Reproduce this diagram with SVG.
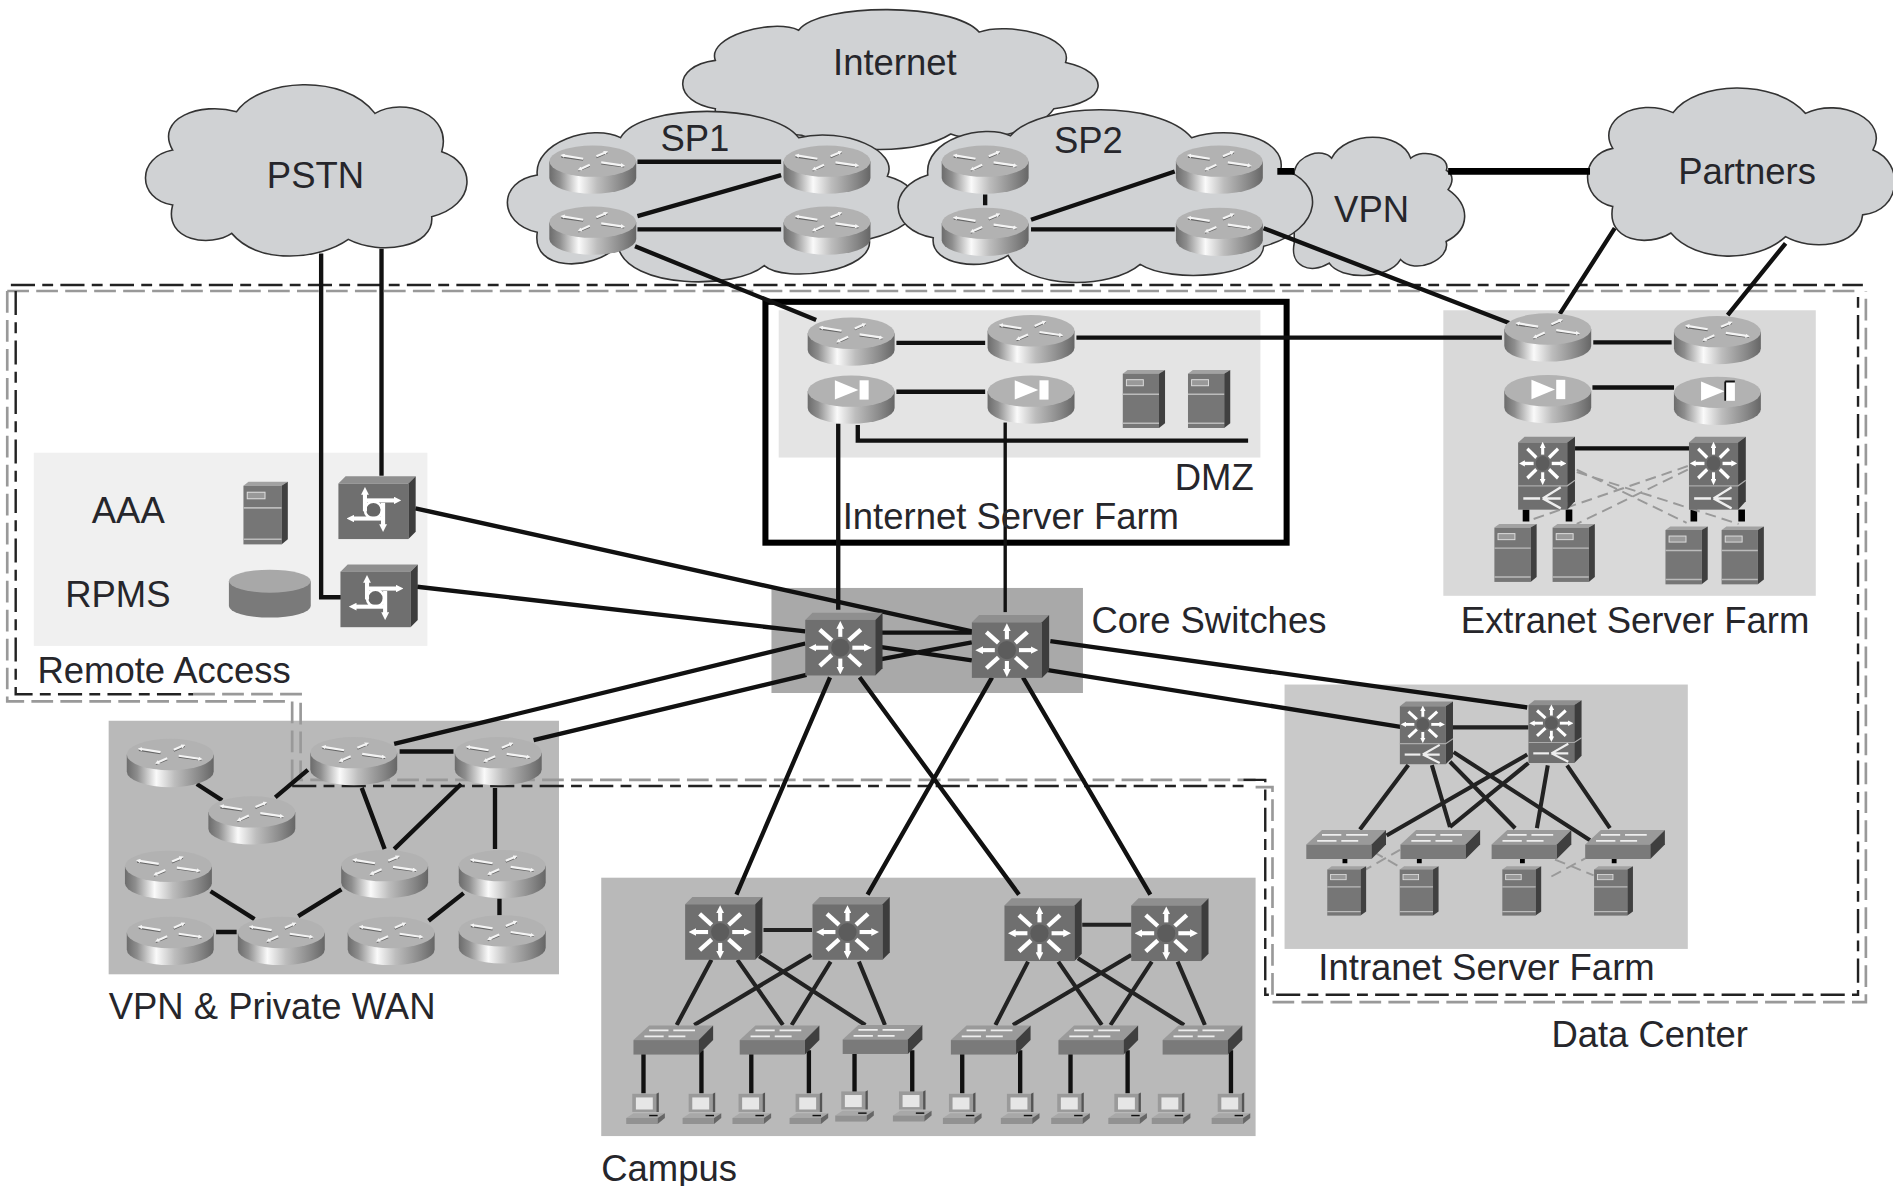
<svg xmlns="http://www.w3.org/2000/svg" width="1893" height="1186" viewBox="0 0 1893 1186">
<style>
text{font-family:"Liberation Sans",Arial,sans-serif;font-size:30.2px;fill:#26262b}
.cloud{fill:#d0d2d4;stroke:#333;stroke-width:1.3}
.l{stroke:#111;stroke-width:3.6;fill:none}
.lc{stroke:#222;stroke-width:3.4;fill:none}
.d{stroke:#000;stroke-width:5.5;fill:none}
.bk{stroke:#222;stroke-width:2;fill:none;stroke-dasharray:20 6 9 6}
.gr{stroke:#999;stroke-width:2.2;fill:none;stroke-dasharray:18 6}
.gd{stroke:#999;stroke-width:1.6;fill:none;stroke-dasharray:9 5}
.w{stroke:#f4f4f4;fill:none;stroke-width:1.8;marker-end:url(#ws)}
.sh{stroke:#666;fill:none;stroke-width:1.4}
.s{stroke:#fff;fill:none;stroke-width:3.4;marker-end:url(#wa)}
.b{stroke:#fff;fill:none;stroke-width:3.6}
</style>
<defs>
<marker id="wa" viewBox="0 0 10 10" refX="2" refY="5" markerWidth="1.9" markerHeight="1.9" orient="auto"><path d="M0,0L10,5L0,10Z" fill="#fff"/></marker>
<marker id="ws" viewBox="0 0 10 10" refX="2" refY="5" markerWidth="2" markerHeight="2" orient="auto"><path d="M0,0L10,5L0,10Z" fill="#f4f4f4"/></marker>
<linearGradient id="cyl"><stop offset="0" stop-color="#6c6c6c"/><stop offset=".12" stop-color="#8e8e8e"/><stop offset=".34" stop-color="#fafafa"/><stop offset=".55" stop-color="#bdbdbd"/><stop offset=".85" stop-color="#858585"/><stop offset="1" stop-color="#666"/></linearGradient>
<g id="cylinder"><path d="M-36,-7V7A36,13 0 0 0 36,7V-7Z" fill="url(#cyl)"/><ellipse cy="-7" rx="36" ry="13" fill="#b2b2b2"/></g>
<g id="router"><use href="#cylinder"/><path class="sh" d="M-8,-8L-26,-10.600M3,-10L12,-14M7,-5L26,-2.500M-2.500,-3L-12,1"/><path class="w" d="M-8,-9L-24,-11.600"/><path class="w" d="M3,-11L10,-14"/><path class="w" d="M7,-6L24,-3.500"/><path class="w" d="M-2.500,-4L-10,-.6"/></g>
<g id="ld"><use href="#cylinder"/><path d="M-13.500,-16L6,-8L-13.500,0Z" fill="#fff"/><rect x="7" y="-16" width="7.500" height="16" fill="#fff"/></g>
<g id="star"><circle r="7.500" fill="#5c5c5c"/><path class="s" d="M10,0H21"/><path class="s" d="M-10,0H-21"/><path class="s" d="M0,9V17"/><path class="s" d="M0,-9V-17"/><path class="b" d="M7,6L17,15"/><path class="b" d="M-7,6L-17,15"/><path class="b" d="M7,-6L17,-15"/><path class="b" d="M-7,-6L-17,-15"/></g>
<g id="box"><path d="M-32,-20L-26,-26H32L26,-20Z" fill="#8f8f8f"/><rect x="-32" y="-20" width="58" height="46" fill="#6f6f6f"/><path d="M26,-20L32,-26V20L26,26Z" fill="#3d3d3d"/></g>
<g id="mls"><use href="#box"/><use href="#star" x="-3" y="3"/></g>
<g id="access"><use href="#box"/><circle cx="-3" cy="2" r="7" fill="#666" stroke="#fff" stroke-width="2.200"/><path class="s" d="M-10,3V-12"/><path class="s" d="M-10,-6H15"/><path class="s" d="M5,-4V15"/><path class="s" d="M4,9H-20"/></g>
<g id="mlsnf"><path d="M-22,-22L-17,-26H22L16,-22Z" fill="#8f8f8f"/><rect x="-22" y="-22" width="38" height="48" fill="#6f6f6f"/><path d="M16,-22L22,-26V20L16,26Z" fill="#3d3d3d"/><path d="M-22,9H16L22,5" stroke="#aaa" stroke-width="1" fill="none"/><g transform="translate(-3,-7) scale(.7)"><use href="#star"/></g><g stroke="#eee" stroke-width="1.800" fill="none"><path d="M-18,18H-5"/><path d="M-3,18L11,10M-3,18H11M-3,18L11,25"/></g></g>
<g id="server"><path d="M-17,-21L-13,-24H18L13,-21Z" fill="#a2a2a2"/><rect x="-17" y="-21" width="30" height="45" fill="#767676"/><path d="M13,-21L18,-24V20L13,24Z" fill="#404040"/><rect x="-14" y="-16" width="14" height="5" fill="#999" stroke="#ddd" stroke-width=".8"/><path d="M-17,-4H13M-17,20H13" stroke="#bbb" stroke-width="1.200"/></g>
<g id="wg"><path d="M-33,0L-20,-12H33L21,0Z" fill="#9a9a9a"/><rect x="-33" width="54" height="12" fill="#7a7a7a"/><path d="M21,0L33,-12V0L21,12Z" fill="#3f3f3f"/><g stroke="#eee" stroke-width="1.500"><path d="M-20,-8H-4M0,-8H18M-24,-3H-8M-4,-3H10"/></g></g>
<g id="pc"><rect x="-11" y="-13" width="20" height="15" fill="#9a9a9a"/><rect x="-8" y="-10" width="14" height="10" fill="#e6e6e6"/><path d="M9,-13L11,-14V2L9,2Z" fill="#555"/><path d="M-16,7L-10,3H16L10,7Z" fill="#a8a8a8"/><path d="M-16,7H10V12H-16Z" fill="#929292"/><path d="M10,7L16,3V7L10,12Z" fill="#666"/><path d="M3,5H10" stroke="#111" stroke-width="1.200"/></g>
</defs>
<rect width="1893" height="1186" fill="#fff"/>
<g transform="scale(1.2073)">
<g id="areas">
<rect x="28" y="375" width="326" height="160" fill="#f0f0f0"/>
<rect x="645" y="257" width="399" height="122" fill="#e4e4e4"/>
<rect x="1195.500" y="257" width="308.500" height="236.500" fill="#d9d9d9"/>
<rect x="639" y="487" width="258" height="87" fill="#a9a9a9"/>
<rect x="1064" y="567" width="334" height="219" fill="#c9c9c9"/>
<rect x="90" y="597" width="373" height="210" fill="#b9b9b9"/>
<rect x="498" y="727" width="542" height="214" fill="#b9b9b9"/>
</g>
<g id="boundaries">
<path class="gr" d="M6,241H1539M6,241V581H242V651"/>
<path class="gr" d="M160,575H249V646H1040M1040,652H1054V830H1545.500V241"/>
<path class="bk" d="M9,236H1543"/>
<path class="bk" d="M13,241V575H160"/>
<path class="bk" d="M242,651H1030"/>
<path class="bk" d="M1030,646H1048V824H1539V245"/>
<rect x="634" y="250" width="431.700" height="199.500" fill="none" stroke="#000" stroke-width="5"/>
</g>
<g id="cloud-internet"><path class="cloud" d="M592.500,50C585,30 640,15 661.500,25C680,2 790,2 811,26.600C835,18 890,30 882.600,51.800C920,60 920,85 873,90C860,110 810,120 787.500,111C760,128 700,128 664,112C640,110 590,105 592.500,90C558,85 555,55 592.500,50Z"/><text x="690" y="62">Internet</text></g>
<g id="cloud-vpn"><path class="cloud" d="M1072,142C1075,128 1095,122 1103,131C1115,108 1160,108 1168.500,131C1180,122 1202,130 1198,141C1205,145 1203,152 1199.500,157C1218,170 1218,190 1197.800,200C1202,215 1172,228 1160,215C1150,232 1110,232 1101,218C1085,228 1068,220 1072,201.500Z"/><text x="1105" y="184">VPN</text></g>
<g id="cloud-sp1"><path class="cloud" d="M445,145C442,118 490,102 514,114C530,85 640,85 661.500,114C700,105 745,125 735,146C768,155 773,185 720,198C725,225 650,235 633,220C610,240 520,240 511.700,204C490,225 440,225 445,192.400C412,185 412,150 445,145Z"/><text x="547" y="125">SP1</text></g>
<g id="cloud-sp2"><path class="cloud" d="M768.500,145C765,115 815,102 837,112.500C860,85 960,82 987,114C1020,103 1065,115 1061,140C1098,150 1098,190 1046.700,204C1045,230 970,235 944.400,219C920,240 850,240 835,211.600C815,225 770,220 773,197C735,190 735,155 768.500,145Z"/><text x="873" y="127">SP2</text></g>
<g id="cloud-pstn"><path class="cloud" d="M143,124.300C128,98 166,84 196,92.500C215,65 285,60 310.600,93.900C335,80 375,95 365.900,125.600C395,135 395,170 357.600,179.500C360,205 315,212 288.500,198.300C265,215 215,220 191.900,193.300C175,205 135,200 143,169.800C113,165 113,130 143,124.300Z"/><text x="221" y="156">PSTN</text></g>
<g id="cloud-partners"><path class="cloud" d="M1335.800,122.900C1322,100 1355,80 1385.800,93.300C1405,67 1470,65 1495.500,93.900C1525,80 1565,100 1551.400,124.200C1578,135 1575,175 1542.800,178C1540,205 1500,208 1479,196C1455,218 1405,218 1384,193C1365,205 1330,200 1335.800,171C1308,165 1308,128 1335.800,122.900Z"/><text x="1390" y="152">Partners</text></g>
<g id="connectors">
<path class="d" d="M1058,142H1072M1199.500,142H1317"/>
<path class="l" d="M528,134H647M528,179L647,145M528,190H647M526,204L676,265"/>
<path class="l" d="M816,161V170M854,182L973,142M854,190H973M1046.600,189L1250,267.500"/>
<path class="l" d="M1337.500,189L1292,260M1479,201.500L1431,261"/>
<path class="l" d="M266,210V494.700H283M316,206V394"/>
<path class="l" d="M742.500,284H816M742.500,324.500H816M891.600,279.600H1244M710.500,352V365H1033.800"/>
<path class="l" d="M694.300,351V505"/><path class="l" style="stroke-width:2.800" d="M832.600,350V507"/>
<path class="l" d="M344,421L805,523M345.500,486L667,523M326.500,616.200L667,533M442,613L668,559"/>
<path class="l" d="M730,524H805M730,536L805,547M730,546L805,532M870,531L1265,586M868,555L1160,602"/>
<path class="l" d="M687.500,561L610,741M712,561L844,741M821.700,561L718.600,741M847.300,561L952.800,741"/>
<path class="l" d="M1319.700,283.600H1384.600M1319,321H1386.600M1304.600,371.400H1399"/>
<path class="d" d="M1264,422V432M1299.600,422V432M1403,422V432M1442.600,422V432"/>
<path class="gd" d="M1306,389L1397,433M1306,391L1440,434M1398,386L1267,431M1398,389L1306,434"/>
<path class="lc" d="M1202,602.500H1266M1166.500,633.700L1126.400,687M1186,633.700L1201,685M1201,631L1255,686M1204,623L1317,696M1265,625L1148.500,692M1266,632L1201,685M1282,634L1273,686M1298,634L1333.500,686"/>
<path class="d" style="stroke-width:4" d="M1114,704V715M1175.600,704V715M1261,704V715M1337,704V715"/>
<path class="gd" d="M1128,722L1159.600,704M1137.500,705.500L1161,719M1285,726L1313,711M1288,712L1320,725"/>
<path class="lc" d="M632.400,770.300H672.600M896.400,766H937"/>
<path class="lc" d="M589.300,795L560.500,849M610.800,795L648.500,849M628.800,792L716.800,849M672,791L575,849M688,796.500L655.700,849M711.400,796.500L733,849"/>
<path class="lc" d="M851.500,796.500L824.500,849M876.600,796.500L912.600,849M892.800,793.700L980.800,849M937,791L839,849M954,796.500L919.800,849M975.400,796.500L998,849"/>
<path class="l" d="M533,873V905.600M581,870V905.600M622.300,873V905.600M670,870V905.600M707.800,873V905.600M755.600,870V905.600M797,873V905.600M845,870V905.600M886.700,873V905.600M934,870V905.600M1019.600,870V905.600"/>
<path class="l" d="M163,649.400L184,663M228,660.500L255,637.700M331,622.500H375.600M299.600,652.600L318.600,703.300M382,649.400L326.500,703.300M410,652.600V703.300M174.400,738.200L210.800,761.300M247,758.800L282.800,736.600M179,772H196M355,762.600L384,739.800M413.700,744.500V758"/>
</g>
<g id="r-sp1-1"><use href="#router" x="491" y="140.500"/></g>
<g id="r-sp1-2"><use href="#router" x="685" y="140.500"/></g>
<g id="r-sp1-3"><use href="#router" x="491" y="191"/></g>
<g id="r-sp1-4"><use href="#router" x="685" y="191"/></g>
<g id="r-sp2-1"><use href="#router" x="816" y="140.500"/></g>
<g id="r-sp2-2"><use href="#router" x="1010" y="140.500"/></g>
<g id="r-sp2-3"><use href="#router" x="816" y="192"/></g>
<g id="r-sp2-4"><use href="#router" x="1010" y="192"/></g>
<g id="r-isf-1"><use href="#router" x="705" y="283"/></g>
<g id="r-isf-2"><use href="#router" x="854" y="281"/></g>
<g id="ld-isf-1"><use href="#ld" x="705" y="331"/></g>
<g id="ld-isf-2"><use href="#ld" x="854" y="331"/></g>
<g id="srv-dmz-1"><use href="#server" x="947" y="330.500"/></g>
<g id="srv-dmz-2"><use href="#server" x="1001" y="330.500"/></g>
<g id="r-ext-1"><use href="#router" x="1282" y="279.500"/></g>
<g id="r-ext-2"><use href="#router" x="1422.500" y="281.700"/></g>
<g id="ld-ext-1"><use href="#ld" x="1282" y="330.600"/></g>
<g id="ld-ext-2"><use href="#ld" x="1422.500" y="332"/><path d="M1429,316H1437M1429,316V332" stroke="#111" stroke-width="1.500" fill="none"/></g>
<g id="mls-ext-1"><g transform="translate(1281,392) scale(1.07,1.16)"><use href="#mlsnf"/></g></g>
<g id="mls-ext-2"><g transform="translate(1422.500,392) scale(1.07,1.16)"><use href="#mlsnf"/></g></g>
<g id="srv-ext-1"><use href="#server" x="1254.800" y="458"/></g>
<g id="srv-ext-2"><use href="#server" x="1303" y="458"/></g>
<g id="srv-ext-3"><use href="#server" x="1396.500" y="460"/></g>
<g id="srv-ext-4"><use href="#server" x="1443" y="460"/></g>
<g id="srv-aaa"><g transform="translate(219.500,425) scale(1.05,1.08)"><use href="#server"/></g></g>
<g id="disk-rpms"><path d="M189.600,481.400V502A33.900,9.500 0 0 0 257.400,502V481.400Z" fill="#7a7a7a"/><ellipse cx="223.500" cy="481.400" rx="33.900" ry="9.500" fill="#a8a8a8"/></g>
<g id="as-1"><use href="#access" x="312.300" y="420.500"/></g>
<g id="as-2"><use href="#access" x="314" y="493.500"/></g>
<g id="core-1"><use href="#mls" x="699" y="533.500"/></g>
<g id="core-2"><use href="#mls" x="837" y="535.500"/></g>
<g id="mls-intra-1"><use href="#mlsnf" x="1181.500" y="607"/></g>
<g id="mls-intra-2"><use href="#mlsnf" x="1288" y="606"/></g>
<g id="wg-intra-1"><use href="#wg" x="1115" y="699.500"/></g>
<g id="wg-intra-2"><use href="#wg" x="1193" y="699.500"/></g>
<g id="wg-intra-3"><use href="#wg" x="1268.500" y="699.500"/></g>
<g id="wg-intra-4"><use href="#wg" x="1346" y="699.500"/></g>
<g id="srv-intra-1"><g transform="translate(1115,738) scale(.92,.85)"><use href="#server"/></g></g>
<g id="srv-intra-2"><g transform="translate(1175,738) scale(.92,.85)"><use href="#server"/></g></g>
<g id="srv-intra-3"><g transform="translate(1260,738) scale(.92,.85)"><use href="#server"/></g></g>
<g id="srv-intra-4"><g transform="translate(1336,738) scale(.92,.85)"><use href="#server"/></g></g>
<g id="r-vpn-1"><use href="#router" x="141" y="632"/></g>
<g id="r-vpn-2"><use href="#router" x="208.600" y="679.500"/></g>
<g id="r-vpn-3"><use href="#router" x="293" y="630.400"/></g>
<g id="r-vpn-4"><use href="#router" x="412.700" y="630.400"/></g>
<g id="r-vpn-5"><use href="#router" x="139.500" y="724.600"/></g>
<g id="r-vpn-6"><use href="#router" x="318.600" y="724"/></g>
<g id="r-vpn-7"><use href="#router" x="416" y="724"/></g>
<g id="r-vpn-8"><use href="#router" x="141" y="779.400"/></g>
<g id="r-vpn-9"><use href="#router" x="233" y="779.400"/></g>
<g id="r-vpn-10"><use href="#router" x="324" y="779.400"/></g>
<g id="r-vpn-11"><use href="#router" x="416" y="778"/></g>
<g id="mls-camp-1"><use href="#mls" x="599.500" y="769"/></g>
<g id="mls-camp-2"><use href="#mls" x="705" y="769"/></g>
<g id="mls-camp-3"><use href="#mls" x="864" y="770"/></g>
<g id="mls-camp-4"><use href="#mls" x="969" y="770"/></g>
<g id="wg-camp-1"><use href="#wg" x="557.700" y="861.500"/></g>
<g id="wg-camp-2"><use href="#wg" x="645.700" y="861.500"/></g>
<g id="wg-camp-3"><use href="#wg" x="731" y="861"/></g>
<g id="wg-camp-4"><use href="#wg" x="820.600" y="861.500"/></g>
<g id="wg-camp-5"><use href="#wg" x="909.700" y="861.500"/></g>
<g id="wg-camp-6"><use href="#wg" x="996" y="861.500"/></g>
<g id="pc-1"><use href="#pc" x="534.700" y="919"/></g>
<g id="pc-2"><use href="#pc" x="581.400" y="919"/></g>
<g id="pc-3"><use href="#pc" x="622.700" y="919"/></g>
<g id="pc-4"><use href="#pc" x="670" y="919"/></g>
<g id="pc-5"><use href="#pc" x="707.800" y="917"/></g>
<g id="pc-6"><use href="#pc" x="755.600" y="917"/></g>
<g id="pc-7"><use href="#pc" x="797" y="919"/></g>
<g id="pc-8"><use href="#pc" x="845" y="919"/></g>
<g id="pc-9"><use href="#pc" x="886.700" y="919"/></g>
<g id="pc-10"><use href="#pc" x="934" y="919"/></g>
<g id="pc-11"><use href="#pc" x="970" y="919"/></g>
<g id="pc-12"><use href="#pc" x="1019.600" y="919"/></g>
<g id="labels">
<text x="973" y="406">DMZ</text>
<text x="698" y="438">Internet Server Farm</text>
<text x="904" y="524">Core Switches</text>
<text x="1210" y="524">Extranet Server Farm</text>
<text x="1092" y="812">Intranet Server Farm</text>
<text x="1285" y="867">Data Center</text>
<text x="76" y="433">AAA</text>
<text x="54" y="503">RPMS</text>
<text x="31" y="566">Remote Access</text>
<text x="90" y="844">VPN &amp; Private WAN</text>
<text x="498" y="978">Campus</text>
</g>
</g>
</svg>
